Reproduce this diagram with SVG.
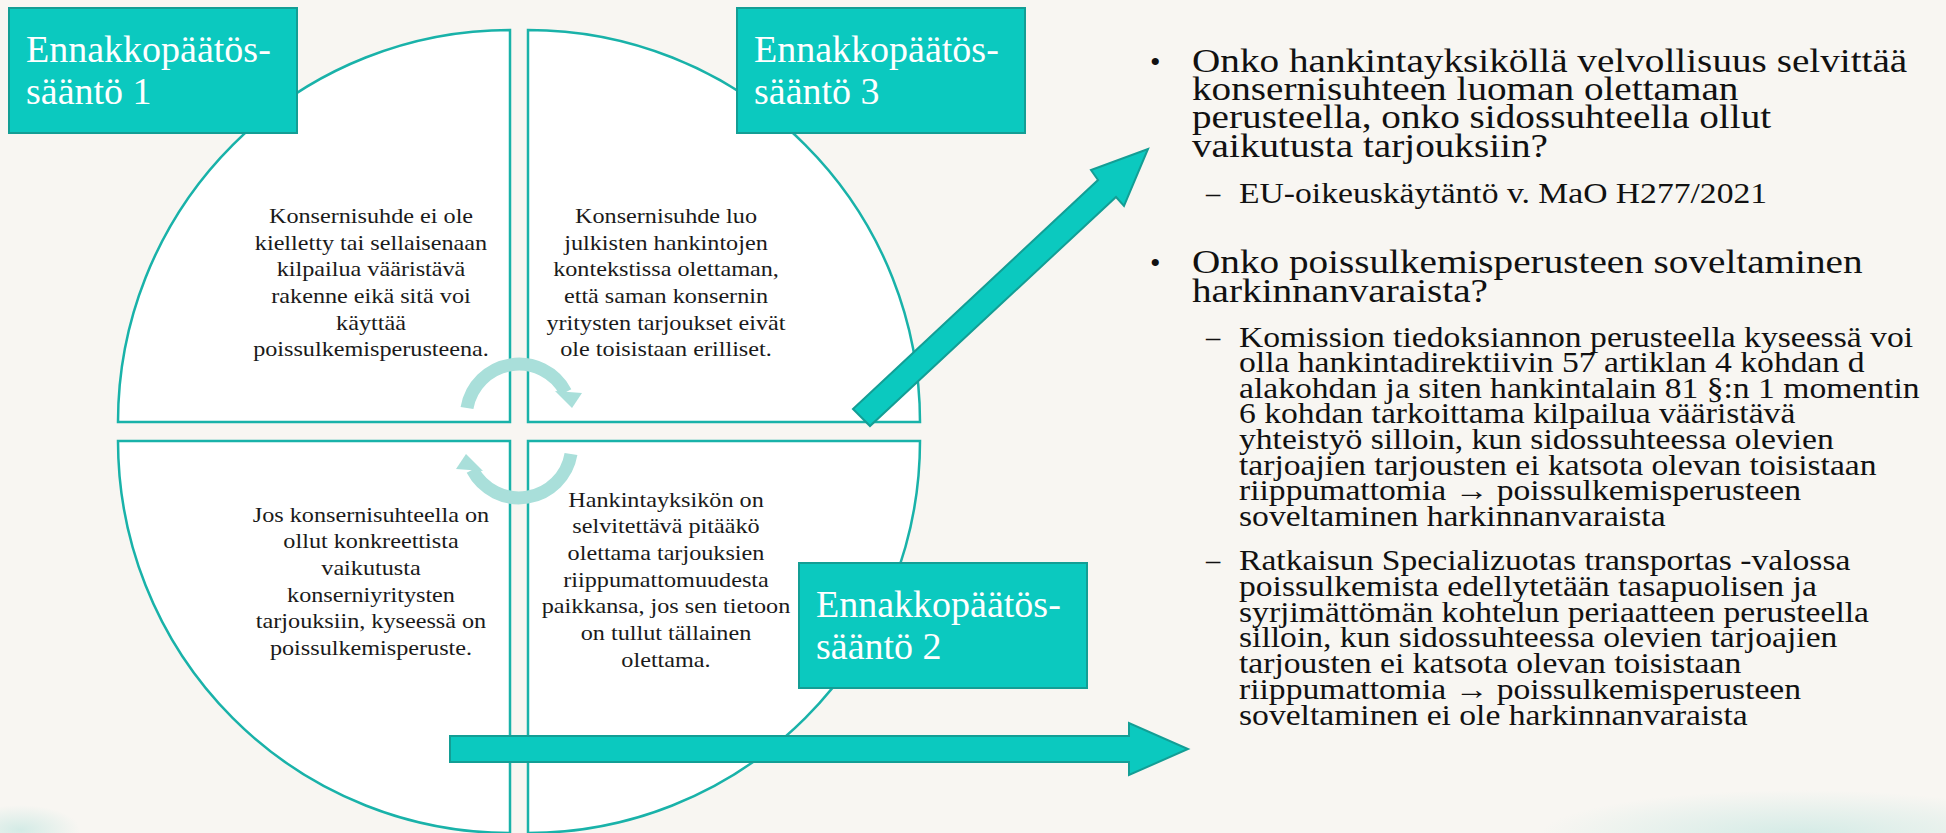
<svg xmlns="http://www.w3.org/2000/svg" width="1946" height="833" viewBox="0 0 1946 833">
<defs>
<style>
.bg{fill:#F8F6F2}
.quad{fill:#FFFFFF;stroke:#19B2A9;stroke-width:2.5}
.box{fill:#0BC9BF;stroke:#139E95;stroke-width:2}
.boxt{font-family:"Liberation Serif","Times New Roman",serif;font-size:38px;fill:#FFFFFF}
.qt{font-family:"Liberation Serif","Times New Roman",serif;font-size:22px;fill:#1A1A1A;text-anchor:middle}
.cyc{fill:none;stroke:#A9DFDA;stroke-width:13}
.cych{fill:#A9DFDA}
.arr{fill:#0BC9BF;stroke:#139E95;stroke-width:2;stroke-linejoin:miter}
.mt{font-family:"Liberation Serif","Times New Roman",serif;font-size:34px;fill:#111111}
.st{font-family:"Liberation Serif","Times New Roman",serif;font-size:28.5px;fill:#111111}
.bu{font-family:"Liberation Serif","Times New Roman",serif;font-size:30px;fill:#111111}
</style>
<radialGradient id="splash" cx="0.5" cy="0.5" r="0.5">
<stop offset="0" stop-color="#8FD6CF" stop-opacity="0.35"/>
<stop offset="1" stop-color="#8FD6CF" stop-opacity="0"/>
</radialGradient>
</defs>
<rect class="bg" x="0" y="0" width="1946" height="833"/>
<ellipse cx="1800" cy="835" rx="260" ry="45" fill="url(#splash)"/>
<ellipse cx="20" cy="830" rx="60" ry="25" fill="url(#splash)"/>

<g id="quadrants">
<g id="q-top-left">
<path class="quad" d="M510,422 L118,422 A392,392 0 0 1 510,30 Z"/>
<g transform="translate(371,0) scale(1.1,1)">
<text class="qt" x="0" y="223">Konsernisuhde ei ole</text>
<text class="qt" x="0" y="249.7">kielletty tai sellaisenaan</text>
<text class="qt" x="0" y="276.4">kilpailua vääristävä</text>
<text class="qt" x="0" y="303.1">rakenne eikä sitä voi</text>
<text class="qt" x="0" y="329.8">käyttää</text>
<text class="qt" x="0" y="356.5">poissulkemisperusteena.</text>
</g>
</g>
<g id="q-top-right">
<path class="quad" d="M528,422 L528,30 A392,392 0 0 1 920,422 Z"/>
<g transform="translate(666,0) scale(1.1,1)">
<text class="qt" x="0" y="223">Konsernisuhde luo</text>
<text class="qt" x="0" y="249.7">julkisten hankintojen</text>
<text class="qt" x="0" y="276.4">kontekstissa olettaman,</text>
<text class="qt" x="0" y="303.1">että saman konsernin</text>
<text class="qt" x="0" y="329.8">yritysten tarjoukset eivät</text>
<text class="qt" x="0" y="356.5">ole toisistaan erilliset.</text>
</g>
</g>
<g id="q-bottom-left">
<path class="quad" d="M510,441 L510,833 A392,392 0 0 1 118,441 Z"/>
<g transform="translate(371,0) scale(1.1,1)">
<text class="qt" x="0" y="521.7">Jos konsernisuhteella on</text>
<text class="qt" x="0" y="548.4">ollut konkreettista</text>
<text class="qt" x="0" y="575.1">vaikutusta</text>
<text class="qt" x="0" y="601.8">konserniyritysten</text>
<text class="qt" x="0" y="628.5">tarjouksiin, kyseessä on</text>
<text class="qt" x="0" y="655.2">poissulkemisperuste.</text>
</g>
</g>
<g id="q-bottom-right">
<path class="quad" d="M528,441 L920,441 A392,392 0 0 1 528,833 Z"/>
<g transform="translate(666,0) scale(1.1,1)">
<text class="qt" x="0" y="506.7">Hankintayksikön on</text>
<text class="qt" x="0" y="533.4">selvitettävä pitääkö</text>
<text class="qt" x="0" y="560.1">olettama tarjouksien</text>
<text class="qt" x="0" y="586.8">riippumattomuudesta</text>
<text class="qt" x="0" y="613.5">paikkansa, jos sen tietoon</text>
<text class="qt" x="0" y="640.2">on tullut tällainen</text>
<text class="qt" x="0" y="666.9">olettama.</text>
</g>
</g>
</g>

<g id="connectors">
<g id="cycle-top">
<path class="cyc" d="M467,408 A52.75,52.75 0 0 1 565.6,392.2"/>
<polygon class="cych" points="555,391 582,393 572,408"/>
</g>
<g id="cycle-bottom">
<path class="cyc" d="M571,454 A52.75,52.75 0 0 1 472.4,469.8"/>
<polygon class="cych" points="483,471 456,469 466,454"/>
</g>
<polygon id="arrow-diagonal" class="arr" points="853,409 1098,180 1091,170 1148,149 1124,206 1116,197 870,426"/>
<polygon id="arrow-horizontal" class="arr" points="450,736 1129,736 1129,723 1188,749 1129,775 1129,762 450,762"/>
</g>

<g id="box-1">
<rect class="box" x="9" y="8" width="288" height="125"/>
<text class="boxt" x="26" y="62">Ennakkopäätös-</text>
<text class="boxt" x="26" y="104">sääntö 1</text>
</g>
<g id="box-3">
<rect class="box" x="737" y="8" width="288" height="125"/>
<text class="boxt" x="754" y="62">Ennakkopäätös-</text>
<text class="boxt" x="754" y="104">sääntö 3</text>
</g>
<g id="box-2">
<rect class="box" x="799" y="563" width="288" height="125"/>
<text class="boxt" x="816" y="617">Ennakkopäätös-</text>
<text class="boxt" x="816" y="659">sääntö 2</text>
</g>

<g id="bullets">
<text class="bu" x="1150" y="71.7">•</text>
<g transform="translate(1192,0) scale(1.153,1)">
<text class="mt" x="0" y="71.7">Onko hankintayksiköllä velvollisuus selvittää</text>
<text class="mt" x="0" y="100">konsernisuhteen luoman olettaman</text>
<text class="mt" x="0" y="128.3">perusteella, onko sidossuhteella ollut</text>
<text class="mt" x="0" y="156.6">vaikutusta tarjouksiin?</text>
</g>
<text class="st" x="1206" y="203">–</text>
<g transform="translate(1239,0) scale(1.18,1)">
<text class="st" x="0" y="203">EU-oikeuskäytäntö v. MaO H277/2021</text>
</g>
<text class="bu" x="1150" y="273.3">•</text>
<g transform="translate(1192,0) scale(1.153,1)">
<text class="mt" x="0" y="273.3">Onko poissulkemisperusteen soveltaminen</text>
<text class="mt" x="0" y="301.6">harkinnanvaraista?</text>
</g>
<text class="st" x="1206" y="346.7">–</text>
<g transform="translate(1239,0) scale(1.18,1)">
<text class="st" x="0" y="346.7">Komission tiedoksiannon perusteella kyseessä voi</text>
<text class="st" x="0" y="372.3">olla hankintadirektiivin 57 artiklan 4 kohdan d</text>
<text class="st" x="0" y="397.9">alakohdan ja siten hankintalain 81 §:n 1 momentin</text>
<text class="st" x="0" y="423.5">6 kohdan tarkoittama kilpailua vääristävä</text>
<text class="st" x="0" y="449.1">yhteistyö silloin, kun sidossuhteessa olevien</text>
<text class="st" x="0" y="474.7">tarjoajien tarjousten ei katsota olevan toisistaan</text>
<text class="st" x="0" y="500.3">riippumattomia → poissulkemisperusteen</text>
<text class="st" x="0" y="525.9">soveltaminen harkinnanvaraista</text>
</g>
<text class="st" x="1206" y="570">–</text>
<g transform="translate(1239,0) scale(1.18,1)">
<text class="st" x="0" y="570">Ratkaisun Specializuotas transportas -valossa</text>
<text class="st" x="0" y="595.8">poissulkemista edellytetään tasapuolisen ja</text>
<text class="st" x="0" y="621.6">syrjimättömän kohtelun periaatteen perusteella</text>
<text class="st" x="0" y="647.4">silloin, kun sidossuhteessa olevien tarjoajien</text>
<text class="st" x="0" y="673.2">tarjousten ei katsota olevan toisistaan</text>
<text class="st" x="0" y="699">riippumattomia → poissulkemisperusteen</text>
<text class="st" x="0" y="724.8">soveltaminen ei ole harkinnanvaraista</text>
</g>
</g>
</svg>
